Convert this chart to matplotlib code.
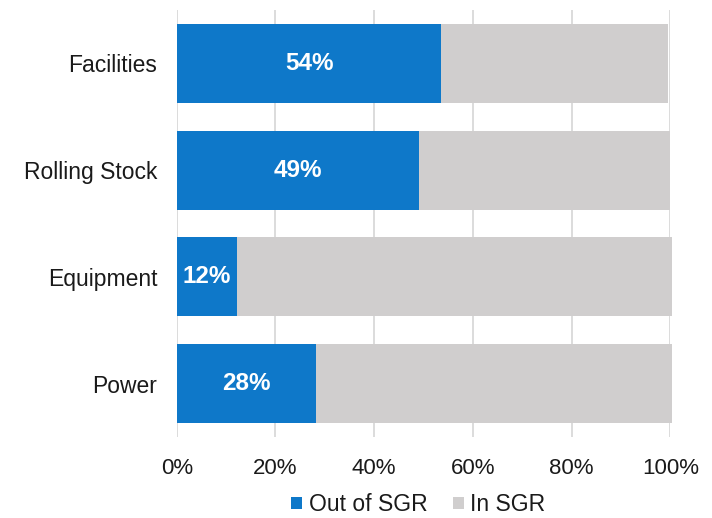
import matplotlib
matplotlib.use("Agg")
import matplotlib.pyplot as plt
from matplotlib.ticker import PercentFormatter

# data
categories = ["Facilities", "Rolling Stock", "Equipment", "Power"]
out_of_sgr = [53.6, 49.0, 12.3, 28.3]
in_sgr = [45.8, 51.0, 88.1, 72.1]
series_names = ["Out of SGR", "In SGR"]

blue = "#0E78C9"
grey = "#D0CECE"
grid_col = "#D9D9D9"

plt.rcParams["font.family"] = ["Liberation Sans", "DejaVu Sans"]

fig = plt.figure(figsize=(7.12, 5.18), dpi=100)
ax = fig.add_axes([0.2482, 0.1564, 0.6935, 0.8243])

ypos = range(len(categories))
bars_out = ax.barh(ypos, out_of_sgr, height=0.74, color=blue,
                   label=series_names[0], zorder=3)
ax.barh(ypos, in_sgr, left=out_of_sgr, height=0.74, color=grey,
        label=series_names[1], zorder=3, clip_on=False)

# white bold value labels in the blue part
for rect, v in zip(bars_out, out_of_sgr):
    ax.text(rect.get_x() + rect.get_width() / 2,
            rect.get_y() + rect.get_height() / 2,
            f"{round(v)}%", ha="center", va="center",
            color="white", fontsize=17.5, fontweight="bold", zorder=4)

ax.set_xlim(0, 100)
ax.set_ylim(3.5, -0.5)
ax.set_xticks(range(0, 101, 20))
ax.xaxis.set_major_formatter(PercentFormatter(decimals=0))
ax.set_yticks(list(ypos))
ax.set_yticklabels(categories)
ax.tick_params(axis="both", length=0, colors="#1a1a1a")
ax.tick_params(axis="x", pad=15, labelsize=16)
ax.tick_params(axis="y", pad=14, labelsize=16.5)

ax.grid(axis="x", color=grid_col, linewidth=1.3, zorder=0)
for s in ["top", "right", "bottom", "left"]:
    ax.spines[s].set_visible(False)

# legend sits right at the bottom edge, as in the reference
fig.legend(loc="center", bbox_to_anchor=(0.5876, 0.026), ncol=2,
           frameon=False, fontsize=16.5, handlelength=0.48,
           handleheight=0.48, handletextpad=0.28, columnspacing=1.1,
           borderpad=0.1, labelcolor="#1a1a1a")

fig.savefig("out.png", dpi=100)
